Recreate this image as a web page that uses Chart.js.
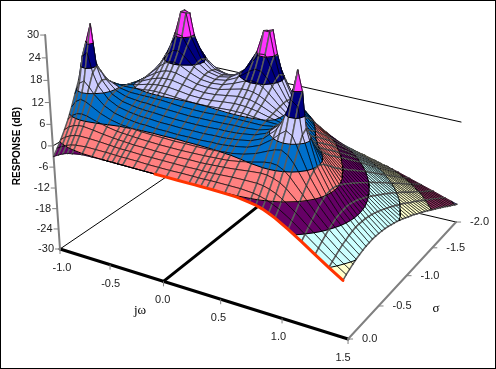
<!DOCTYPE html>
<html>
<head>
<meta charset="utf-8">
<title>Response surface</title>
<script src="https://cdn.jsdelivr.net/npm/chart.js@4"></script>
<style>
    body { margin: 0; background: #fff; }
    canvas { display: block; }
</style>
</head>
<body>
<canvas id="chart" width="496" height="369"></canvas>
<script>
const omegaValues = [-1.0, -0.95, -0.9, -0.85, -0.8, -0.7, -0.6, -0.5, -0.45, -0.4, -0.35, -0.3, -0.2, -0.1, 0, 0.1, 0.2, 0.3, 0.35, 0.4, 0.45, 0.5, 0.6, 0.7, 0.8, 0.85, 0.9, 0.95, 1.0, 1.1, 1.2, 1.3, 1.4, 1.5];
const sigmaValues = [0, -0.05, -0.1, -0.15, -0.2, -0.25, -0.3, -0.35, -0.4, -0.45, -0.5, -0.55, -0.6, -0.65, -0.7, -0.75, -0.8, -0.85, -0.9, -0.95, -1.0, -1.05, -1.1, -1.15, -1.2, -1.25, -1.3, -1.35, -1.4, -1.45, -1.5, -1.55, -1.6, -1.65, -1.7, -1.75, -1.8, -1.85, -1.9, -1.95, -2.0];

// one row per sigma, one column per omega, in dB
const responseDb = [
    [-3, -2.2, -1.5, -1, -0.7, -0.2, -0.1, 0, 0, 0, 0, 0, 0, 0, 0, 0, 0, 0, 0, 0, 0, 0, -0.1, -0.2, -0.7, -1, -1.5, -2.2, -3, -5, -7.2, -9.6, -12, -14.3],
    [-1.3, -0.5, 0.2, 0.7, 1, 1.3, 1.3, 1.3, 1.3, 1.2, 1.2, 1.2, 1.2, 1.1, 1.1, 1.1, 1.2, 1.2, 1.2, 1.2, 1.3, 1.3, 1.3, 1.3, 1, 0.7, 0.2, -0.5, -1.3, -3.5, -6.1, -8.7, -11.2, -13.6],
    [0.5, 1.5, 2.2, 2.7, 2.9, 2.9, 2.8, 2.6, 2.5, 2.4, 2.4, 2.4, 2.3, 2.3, 2.3, 2.3, 2.3, 2.4, 2.4, 2.4, 2.5, 2.6, 2.8, 2.9, 2.9, 2.7, 2.2, 1.5, 0.5, -2, -4.9, -7.7, -10.5, -13],
    [2.6, 3.7, 4.4, 4.8, 4.9, 4.6, 4.2, 3.9, 3.8, 3.7, 3.6, 3.5, 3.5, 3.4, 3.4, 3.4, 3.5, 3.5, 3.6, 3.7, 3.8, 3.9, 4.2, 4.6, 4.9, 4.8, 4.4, 3.7, 2.6, -0.4, -3.7, -6.8, -9.8, -12.4],
    [4.9, 6.3, 7.1, 7.3, 7.1, 6.3, 5.6, 5.1, 5, 4.9, 4.8, 4.7, 4.6, 4.5, 4.5, 4.5, 4.6, 4.7, 4.8, 4.9, 5, 5.1, 5.6, 6.3, 7.1, 7.3, 7.1, 6.3, 4.9, 1.2, -2.6, -6, -9.1, -11.9],
    [7.7, 9.5, 10.4, 10.1, 9.4, 7.9, 6.9, 6.3, 6.2, 6, 5.9, 5.8, 5.7, 5.7, 5.6, 5.7, 5.7, 5.8, 5.9, 6, 6.2, 6.3, 6.9, 7.9, 9.4, 10.1, 10.4, 9.5, 7.7, 2.9, -1.5, -5.3, -8.6, -11.5],
    [10.8, 13.9, 14.8, 13.5, 11.8, 9.4, 8.1, 7.5, 7.3, 7.1, 7, 7, 6.8, 6.8, 6.7, 6.8, 6.8, 7, 7, 7.1, 7.3, 7.5, 8.1, 9.4, 11.8, 13.5, 14.8, 13.9, 10.8, 4.4, -0.6, -4.6, -8.1, -11.1],
    [13.9, 20.7, 21.9, 16.8, 13.7, 10.6, 9.2, 8.6, 8.4, 8.2, 8.1, 8.1, 7.9, 7.9, 7.8, 7.9, 7.9, 8.1, 8.1, 8.2, 8.4, 8.6, 9.2, 10.6, 13.7, 16.8, 21.9, 20.7, 13.9, 5.5, 0.1, -4.2, -7.7, -10.8],
    [14.9, 24, 29, 18, 14.6, 11.4, 10.1, 9.6, 9.4, 9.3, 9.2, 9.2, 9, 8.9, 8.9, 8.9, 9, 9.2, 9.2, 9.3, 9.4, 9.6, 10.1, 11.4, 14.6, 18, 29, 24, 14.9, 6, 0.4, -3.9, -7.4, -10.6],
    [13.1, 17, 18.1, 16.1, 14.2, 11.8, 10.8, 10.5, 10.4, 10.4, 10.3, 10.2, 10.1, 10, 9.9, 10, 10.1, 10.2, 10.3, 10.4, 10.4, 10.5, 10.8, 11.8, 14.2, 16.1, 18.1, 17, 13.1, 5.8, 0.5, -3.7, -7.3, -10.4],
    [10.7, 13, 14.1, 13.9, 13.1, 11.9, 11.4, 11.4, 11.4, 11.4, 11.4, 11.4, 11.2, 11, 11, 11, 11.2, 11.4, 11.4, 11.4, 11.4, 11.4, 11.4, 11.9, 13.1, 13.9, 14.1, 13, 10.7, 5.2, 0.3, -3.7, -7.3, -10.4],
    [8.7, 10.5, 11.6, 12, 12, 11.8, 11.9, 12.2, 12.4, 12.5, 12.5, 12.5, 12.3, 12.1, 12, 12.1, 12.3, 12.5, 12.5, 12.5, 12.4, 12.2, 11.9, 11.8, 12, 12, 11.6, 10.5, 8.7, 4.3, -0.1, -3.9, -7.3, -10.4],
    [7.1, 8.6, 9.8, 10.5, 11, 11.6, 12.3, 13.1, 13.4, 13.6, 13.7, 13.7, 13.4, 13, 12.9, 13, 13.4, 13.7, 13.7, 13.6, 13.4, 13.1, 12.3, 11.6, 11, 10.5, 9.8, 8.6, 7.1, 3.4, -0.6, -4.2, -7.5, -10.5],
    [5.8, 7.2, 8.4, 9.4, 10.1, 11.4, 12.7, 14, 14.5, 14.9, 15, 15, 14.5, 14, 13.8, 14, 14.5, 15, 15, 14.9, 14.5, 14, 12.7, 11.4, 10.1, 9.4, 8.4, 7.2, 5.8, 2.4, -1.1, -4.5, -7.7, -10.6],
    [4.7, 6, 7.3, 8.4, 9.4, 11.2, 13.1, 15, 15.8, 16.3, 16.5, 16.4, 15.6, 14.8, 14.6, 14.8, 15.6, 16.4, 16.5, 16.3, 15.8, 15, 13.1, 11.2, 9.4, 8.4, 7.3, 6, 4.7, 1.5, -1.8, -5, -8, -10.8],
    [3.7, 5, 6.3, 7.5, 8.7, 10.9, 13.4, 16.2, 17.4, 18.2, 18.4, 18, 16.6, 15.5, 15.2, 15.5, 16.6, 18, 18.4, 18.2, 17.4, 16.2, 13.4, 10.9, 8.7, 7.5, 6.3, 5, 3.7, 0.7, -2.4, -5.4, -8.4, -11.1],
    [2.7, 4.1, 5.4, 6.7, 8, 10.6, 13.7, 17.4, 19.4, 20.7, 20.9, 20, 17.6, 16.1, 15.6, 16.1, 17.6, 20, 20.9, 20.7, 19.4, 17.4, 13.7, 10.6, 8, 6.7, 5.4, 4.1, 2.7, -0.1, -3.1, -6, -8.8, -11.4],
    [1.9, 3.2, 4.6, 5.9, 7.3, 10.2, 13.8, 18.7, 21.9, 24.6, 24.4, 22.2, 18.3, 16.4, 15.8, 16.4, 18.3, 22.2, 24.4, 24.6, 21.9, 18.7, 13.8, 10.2, 7.3, 5.9, 4.6, 3.2, 1.9, -0.9, -3.7, -6.5, -9.2, -11.7],
    [1, 2.4, 3.7, 5.1, 6.5, 9.6, 13.5, 19.4, 24.2, 30, 30, 24.1, 18.6, 16.3, 15.7, 16.3, 18.6, 24.1, 30, 30, 24.2, 19.4, 13.5, 9.6, 6.5, 5.1, 3.7, 2.4, 1, -1.7, -4.4, -7.1, -9.7, -12.1],
    [0.2, 1.5, 2.9, 4.2, 5.7, 8.8, 12.8, 18.8, 23.6, 30, 29.5, 23.5, 18.1, 15.9, 15.3, 15.9, 18.1, 23.5, 29.5, 30, 23.6, 18.8, 12.8, 8.8, 5.7, 4.2, 2.9, 1.5, 0.2, -2.5, -5.1, -7.7, -10.1, -12.5],
    [-0.7, 0.6, 2, 3.3, 4.7, 7.9, 11.7, 16.8, 20, 22.8, 22.8, 20.6, 17, 15.1, 14.5, 15.1, 17, 20.6, 22.8, 22.8, 20, 16.8, 11.7, 7.9, 4.7, 3.3, 2, 0.6, -0.7, -3.3, -5.8, -8.3, -10.7, -13],
    [-1.6, -0.3, 1, 2.4, 3.7, 6.7, 10.3, 14.4, 16.4, 17.9, 18.2, 17.5, 15.4, 14, 13.5, 14, 15.4, 17.5, 18.2, 17.9, 16.4, 14.4, 10.3, 6.7, 3.7, 2.4, 1, -0.3, -1.6, -4.1, -6.5, -8.9, -11.2, -13.5],
    [-2.5, -1.2, 0, 1.3, 2.7, 5.5, 8.6, 11.9, 13.4, 14.4, 14.8, 14.7, 13.6, 12.6, 12.3, 12.6, 13.6, 14.7, 14.8, 14.4, 13.4, 11.9, 8.6, 5.5, 2.7, 1.3, 0, -1.2, -2.5, -4.9, -7.2, -9.5, -11.8, -13.9],
    [-3.4, -2.2, -1, 0.3, 1.5, 4.2, 7, 9.7, 10.8, 11.6, 12.1, 12.1, 11.7, 11.1, 10.9, 11.1, 11.7, 12.1, 12.1, 11.6, 10.8, 9.7, 7, 4.2, 1.5, 0.3, -1, -2.2, -3.4, -5.7, -8, -10.2, -12.3, -14.4],
    [-4.3, -3.1, -2, -0.8, 0.4, 2.8, 5.3, 7.6, 8.5, 9.2, 9.7, 9.9, 9.8, 9.6, 9.4, 9.6, 9.8, 9.9, 9.7, 9.2, 8.5, 7.6, 5.3, 2.8, 0.4, -0.8, -2, -3.1, -4.3, -6.5, -8.7, -10.8, -12.9, -15],
    [-5.2, -4.1, -3, -1.9, -0.8, 1.4, 3.6, 5.6, 6.4, 7.1, 7.5, 7.8, 8, 7.9, 7.8, 7.9, 8, 7.8, 7.5, 7.1, 6.4, 5.6, 3.6, 1.4, -0.8, -1.9, -3, -4.1, -5.2, -7.4, -9.5, -11.5, -13.5, -15.5],
    [-6.2, -5.1, -4.1, -3, -2, 0.1, 2, 3.8, 4.5, 5.1, 5.5, 5.9, 6.2, 6.3, 6.2, 6.3, 6.2, 5.9, 5.5, 5.1, 4.5, 3.8, 2, 0.1, -2, -3, -4.1, -5.1, -6.2, -8.2, -10.2, -12.2, -14.2, -16.1],
    [-7.1, -6.1, -5.2, -4.2, -3.2, -1.3, 0.5, 2.1, 2.7, 3.3, 3.7, 4.1, 4.5, 4.6, 4.6, 4.6, 4.5, 4.1, 3.7, 3.3, 2.7, 2.1, 0.5, -1.3, -3.2, -4.2, -5.2, -6.1, -7.1, -9.1, -11, -12.9, -14.8, -16.6],
    [-8.1, -7.1, -6.2, -5.3, -4.4, -2.6, -1, 0.5, 1.1, 1.6, 2, 2.3, 2.8, 3, 3.1, 3, 2.8, 2.3, 2, 1.6, 1.1, 0.5, -1, -2.6, -4.4, -5.3, -6.2, -7.1, -8.1, -9.9, -11.8, -13.6, -15.4, -17.2],
    [-9, -8.1, -7.3, -6.4, -5.6, -3.9, -2.4, -1.1, -0.5, 0, 0.4, 0.7, 1.2, 1.4, 1.5, 1.4, 1.2, 0.7, 0.4, 0, -0.5, -1.1, -2.4, -3.9, -5.6, -6.4, -7.3, -8.1, -9, -10.8, -12.6, -14.3, -16.1, -17.8],
    [-10, -9.1, -8.3, -7.5, -6.7, -5.2, -3.8, -2.5, -2, -1.6, -1.2, -0.8, -0.4, -0.1, 0, -0.1, -0.4, -0.8, -1.2, -1.6, -2, -2.5, -3.8, -5.2, -6.7, -7.5, -8.3, -9.1, -10, -11.7, -13.4, -15.1, -16.7, -18.4],
    [-10.9, -10.1, -9.3, -8.6, -7.8, -6.4, -5.1, -4, -3.5, -3, -2.7, -2.3, -1.9, -1.6, -1.5, -1.6, -1.9, -2.3, -2.7, -3, -3.5, -4, -5.1, -6.4, -7.8, -8.6, -9.3, -10.1, -10.9, -12.5, -14.1, -15.8, -17.4, -19],
    [-11.9, -11.1, -10.4, -9.6, -8.9, -7.6, -6.4, -5.3, -4.9, -4.4, -4.1, -3.8, -3.3, -3.1, -3, -3.1, -3.3, -3.8, -4.1, -4.4, -4.9, -5.3, -6.4, -7.6, -8.9, -9.6, -10.4, -11.1, -11.9, -13.4, -14.9, -16.5, -18.1, -19.6],
    [-12.8, -12.1, -11.4, -10.7, -10, -8.8, -7.6, -6.6, -6.2, -5.8, -5.5, -5.2, -4.7, -4.5, -4.4, -4.5, -4.7, -5.2, -5.5, -5.8, -6.2, -6.6, -7.6, -8.8, -10, -10.7, -11.4, -12.1, -12.8, -14.2, -15.7, -17.2, -18.7, -20.2],
    [-13.7, -13, -12.4, -11.7, -11.1, -9.9, -8.8, -7.9, -7.5, -7.1, -6.8, -6.5, -6.1, -5.9, -5.8, -5.9, -6.1, -6.5, -6.8, -7.1, -7.5, -7.9, -8.8, -9.9, -11.1, -11.7, -12.4, -13, -13.7, -15.1, -16.5, -17.9, -19.4, -20.8],
    [-14.6, -14, -13.3, -12.7, -12.1, -11, -10, -9.1, -8.7, -8.4, -8.1, -7.8, -7.4, -7.2, -7.1, -7.2, -7.4, -7.8, -8.1, -8.4, -8.7, -9.1, -10, -11, -12.1, -12.7, -13.3, -14, -14.6, -15.9, -17.3, -18.7, -20, -21.4],
    [-15.5, -14.9, -14.3, -13.7, -13.1, -12.1, -11.1, -10.3, -9.9, -9.6, -9.3, -9.1, -8.7, -8.5, -8.4, -8.5, -8.7, -9.1, -9.3, -9.6, -9.9, -10.3, -11.1, -12.1, -13.1, -13.7, -14.3, -14.9, -15.5, -16.8, -18, -19.4, -20.7, -22.1],
    [-16.4, -15.8, -15.2, -14.7, -14.1, -13.1, -12.2, -11.4, -11.1, -10.8, -10.5, -10.3, -9.9, -9.7, -9.6, -9.7, -9.9, -10.3, -10.5, -10.8, -11.1, -11.4, -12.2, -13.1, -14.1, -14.7, -15.2, -15.8, -16.4, -17.6, -18.8, -20.1, -21.4, -22.7],
    [-17.2, -16.7, -16.1, -15.6, -15.1, -14.2, -13.3, -12.6, -12.2, -11.9, -11.7, -11.4, -11.1, -10.9, -10.8, -10.9, -11.1, -11.4, -11.7, -11.9, -12.2, -12.6, -13.3, -14.2, -15.1, -15.6, -16.1, -16.7, -17.2, -18.4, -19.6, -20.8, -22, -23.3],
    [-18.1, -17.6, -17, -16.5, -16.1, -15.2, -14.3, -13.6, -13.3, -13.1, -12.8, -12.6, -12.3, -12, -12, -12, -12.3, -12.6, -12.8, -13.1, -13.3, -13.6, -14.3, -15.2, -16.1, -16.5, -17, -17.6, -18.1, -19.2, -20.3, -21.5, -22.7, -23.9],
    [-18.9, -18.4, -17.9, -17.5, -17, -16.1, -15.4, -14.7, -14.4, -14.1, -13.9, -13.7, -13.4, -13.2, -13.1, -13.2, -13.4, -13.7, -13.9, -14.1, -14.4, -14.7, -15.4, -16.1, -17, -17.5, -17.9, -18.4, -18.9, -20, -21.1, -22.2, -23.4, -24.5]
];

const responseTicks = [-30, -24, -18, -12, -6, 0, 6, 12, 18, 24, 30];
const omegaTicks = [-1.0, -0.5, 0, 0.5, 1.0, 1.5];
const sigmaTicks = [0, -0.5, -1.0, -1.5, -2.0];
const bandColors = ['#9999FF', '#993366', '#FFFFCC', '#CCFFFF', '#660066', '#FF8080', '#0070CC', '#CCCCFF', '#000080', '#FF33FF'];

// perspective of the box, fitted to its corners
function project(omega, sigma, db) {
    let u = (omega + 1) / 2.5;
    let v = -sigma / 2;
    let t = (db + 30) / 60;
    let a = -18 - 10 * u + 15 * v - 9.4 * u * v - 33 * u * (1 - t) * (1 - v) + 12 * u * u * (1 - v);
    let b = -216.4 + 8.4 * u - 11.5 * v + 12.4 * u * v + 20 * u * v * (1 - v);
    let w = -0.159 * u + 0.1516 * v + 1 - 0.07 * t;
    return {
        x: (232.7 * u + 160 * v + 60 + a * t) / w,
        y: (36.1 * u - 64.7 * v + 249 + b * t) / w
    };
}

function clipAt(poly, level, keepAbove) {
    let out = [];
    for (let i = 0; i < poly.length; i++) {
        let p = poly[i];
        let q = poly[(i + 1) % poly.length];
        let pIn = keepAbove ? p.db >= level : p.db <= level;
        let qIn = keepAbove ? q.db >= level : q.db <= level;
        if (pIn) out.push(p);
        if (pIn !== qIn) {
            let f = (level - p.db) / (q.db - p.db);
            out.push({
                omega: p.omega + f * (q.omega - p.omega),
                sigma: p.sigma + f * (q.sigma - p.sigma),
                db: level
            });
        }
    }
    return out;
}

function toPoint(p) {
    return project(p.omega, p.sigma, p.db);
}

function lineSet(points, color, width) {
    return {
        data: points,
        showLine: true,
        fill: false,
        borderColor: color,
        borderWidth: width,
        pointRadius: 0,
        borderCapStyle: 'round'
    };
}

function polySet(points, color) {
    return {
        data: points,
        showLine: true,
        fill: 'shape',
        backgroundColor: color,
        borderColor: color,
        borderWidth: 0.5,
        pointRadius: 0
    };
}

let datasets = [];
let gap = { x: NaN, y: NaN };

// floor and zero plane behind the surface
let lastOmega = omegaValues[omegaValues.length - 1];
let lastSigma = sigmaValues[sigmaValues.length - 1];
datasets.push(lineSet([project(-1, 0, -30), project(-1, lastSigma, -30), project(lastOmega, lastSigma, -30)], '#000', 1));
datasets.push(lineSet([project(-1, 0, 0), project(-1, lastSigma, 0), project(lastOmega, lastSigma, 0)], '#000', 1));
datasets.push(lineSet([project(0, 0, -30), project(0, lastSigma, -30)], '#000', 3));
datasets.push(lineSet([project(-1, 0, -30), project(lastOmega, 0, -30)], '#000', 3));
datasets.push(lineSet([project(lastOmega, 0, -30), project(lastOmega, lastSigma, -30)], '#808080', 2));
datasets.push(lineSet([project(-1, 0, -30), project(-1, 0, 30)], '#808080', 2));

// cells from the far corner to the near one
for (let i = sigmaValues.length - 2; i >= 0; i--) {
    for (let j = 0; j < omegaValues.length - 1; j++) {
        let cell = [
            { omega: omegaValues[j], sigma: sigmaValues[i], db: responseDb[i][j] },
            { omega: omegaValues[j + 1], sigma: sigmaValues[i], db: responseDb[i][j + 1] },
            { omega: omegaValues[j + 1], sigma: sigmaValues[i + 1], db: responseDb[i + 1][j + 1] },
            { omega: omegaValues[j], sigma: sigmaValues[i + 1], db: responseDb[i + 1][j] }
        ];
        let contours = [];
        for (let b = 0; b < bandColors.length; b++) {
            let lo = responseTicks[b];
            let hi = responseTicks[b + 1];
            let poly = clipAt(clipAt(cell, lo, true), hi, false);
            if (poly.length < 3) continue;
            let pts = poly.map(toPoint);
            datasets.push(polySet(pts.concat([pts[0]]), bandColors[b]));
            for (let k = 0; k < poly.length; k++) {
                let n = poly[(k + 1) % poly.length];
                if (poly[k].db === hi && n.db === hi && hi < 30) {
                    contours.push(pts[k], pts[(k + 1) % pts.length], gap);
                }
            }
        }
        let c = cell.map(toPoint);
        datasets.push(lineSet([c[1], c[2], gap, c[3], c[0]], '#5c5c5c', 1.5));
        datasets.push(lineSet([c[0], c[1], gap, c[2], c[3]], '#000', 0.7));
        if (contours.length) datasets.push(lineSet(contours, '#000', 1));
    }
}

// red edge of the surface along sigma = 0, positive omega only
let redEdge = [];
for (let j = 0; j < omegaValues.length; j++) {
    if (omegaValues[j] >= 0) redEdge.push(project(omegaValues[j], 0, responseDb[0][j]));
}
datasets.push(lineSet(redEdge, '#FF3300', 3));

datasets.reverse();

const axisText = {
    id: 'axisText',
    afterDatasetsDraw(chart) {
        let ctx = chart.ctx;
        let sx = chart.scales.x;
        let sy = chart.scales.y;
        let at = (p) => ({ x: sx.getPixelForValue(p.x), y: sy.getPixelForValue(p.y) });
        let tick = (p, dx, dy) => {
            ctx.beginPath();
            ctx.moveTo(p.x, p.y);
            ctx.lineTo(p.x + dx, p.y + dy);
            ctx.stroke();
        };
        ctx.save();
        ctx.strokeStyle = '#808080';
        ctx.lineWidth = 1;
        ctx.fillStyle = '#222';
        ctx.font = '11px "Liberation Sans"';
        ctx.textBaseline = 'middle';

        ctx.textAlign = 'right';
        responseTicks.forEach(v => {
            let p = at(project(-1, 0, v));
            tick(p, -5, 0);
            ctx.fillText(String(v), p.x - 6, p.y);
        });

        ctx.textAlign = 'center';
        omegaTicks.forEach(v => {
            let p = at(project(v, 0, -30));
            tick(p, 0, 5);
            ctx.fillText(v.toFixed(1), p.x + 2 - 7 * (v + 1) / 2.5, p.y + 19);
        });

        ctx.textAlign = 'left';
        sigmaTicks.forEach(v => {
            let p = at(project(lastOmega, v, -30));
            tick(p, 5, 0);
            ctx.fillText(v.toFixed(1), p.x + 14, p.y);
        });

        ctx.textAlign = 'center';
        ctx.fillStyle = '#000';
        ctx.font = '13px "Liberation Serif"';
        ctx.fillText('jω', 140, 311);
        ctx.fillText('σ', 436, 309);

        ctx.save();
        ctx.translate(17, 146);
        ctx.rotate(-Math.PI / 2);
        ctx.font = 'bold 10px "Liberation Sans"';
        ctx.fillText('RESPONSE (dB)', 0, 0);
        ctx.restore();

        ctx.strokeStyle = '#000';
        ctx.lineWidth = 2;
        ctx.strokeRect(0, 0, chart.width, chart.height);
        ctx.restore();
    }
};

new Chart(document.getElementById('chart'), {
    type: 'scatter',
    data: { datasets: datasets },
    options: {
        responsive: false,
        animation: false,
        events: [],
        layout: { padding: 0 },
        scales: {
            x: { type: 'linear', min: 0, max: 496, display: false },
            y: { type: 'linear', min: 0, max: 369, reverse: true, display: false }
        },
        plugins: {
            legend: { display: false },
            tooltip: { enabled: false }
        }
    },
    plugins: [axisText]
});
</script>
</body>
</html>
